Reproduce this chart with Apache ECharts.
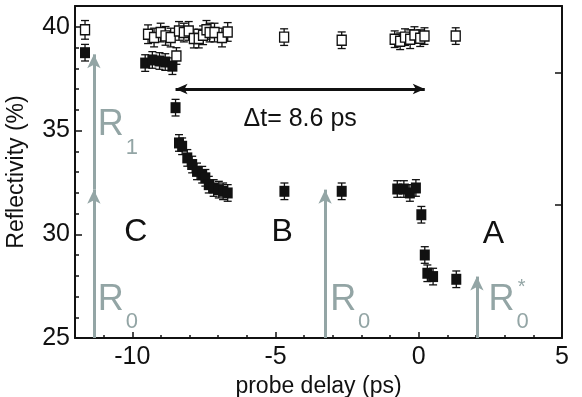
<!DOCTYPE html>
<html>
<head>
<meta charset="utf-8">
<script src="https://cdn.jsdelivr.net/npm/echarts@6/dist/echarts.min.js"></script>
<style>
  html, body { margin: 0; padding: 0; background: #fff; }
  #chart { width: 582px; height: 397px; }
</style>
</head>
<body>
<div id="chart"></div>
<script>
// open squares: before pump (R1 level)
var openX = [-11.65, -9.45, -9.24, -9.01, -8.84, -8.66, -8.46, -8.37, -8.20, -8.03, -7.85, -7.68,
  -7.53, -7.41, -7.30, -7.13, -6.87, -6.67, -4.70, -2.69, -0.84, -0.65, -0.48, -0.30, -0.15, 0.05, 0.20, 1.29];
var openY = [39.85, 39.64, 39.48, 39.72, 39.56, 39.48, 38.59, 39.80, 39.72, 39.80, 39.43, 39.43,
  39.59, 39.85, 39.72, 39.72, 39.48, 39.75, 39.50, 39.35, 39.40, 39.30, 39.50, 39.40, 39.60, 39.45, 39.55, 39.55];
var openErr = [0.45, 0.45, 0.45, 0.45, 0.45, 0.45, 0.40, 0.45, 0.45, 0.45, 0.45, 0.45,
  0.45, 0.45, 0.45, 0.45, 0.45, 0.45, 0.40, 0.40, 0.40, 0.40, 0.40, 0.45, 0.40, 0.40, 0.40, 0.40];

// filled squares: with pump
var fillX = [-11.65, -9.55, -9.30, -9.05, -8.85, -8.60, -8.49, -8.37, -8.26, -8.08, -7.91, -7.74, -7.56,
  -7.45, -7.33, -7.16, -6.98, -6.83, -6.67, -4.69, -2.69, -0.75, -0.52, -0.31, -0.10, 0.09, 0.21, 0.30, 0.50, 1.31];
var fillY = [38.75, 38.25, 38.40, 38.35, 38.30, 38.10, 36.10, 34.40, 34.24, 33.68, 33.36, 33.03, 32.87,
  32.72, 32.39, 32.23, 32.15, 32.07, 31.99, 32.07, 32.07, 32.18, 32.18, 31.99, 32.23, 30.94, 29.00, 28.12, 27.96, 27.83];
var fillErr = [0.40, 0.40, 0.40, 0.40, 0.40, 0.40, 0.40, 0.40, 0.40, 0.40, 0.40, 0.40, 0.40,
  0.40, 0.40, 0.40, 0.40, 0.40, 0.40, 0.40, 0.40, 0.40, 0.40, 0.40, 0.40, 0.40, 0.40, 0.40, 0.40, 0.40];

var xLabels = [-10, -5, 0, 5];
var yLabels = [25, 30, 35, 40];
var rightTicks = [31.4, 37.8];

// annotation positions (data coords)
var dtArrow = [[-8.49, 37.0], [0.21, 37.0]];
var grayArrows = [
  [[-11.34, 25], [-11.34, 32.15]],
  [[-11.34, 32.15], [-11.34, 38.67]],
  [[-3.27, 25], [-3.27, 32.15]],
  [[2.03, 25], [2.03, 27.96]]
];
var regionLabels = [['C', -9.88, 30.12], ['B', -4.77, 30.12], ['A', 2.61, 30.02]];
var rLabels = [['R', '1', -10.75, 35.24], ['R', '0', -10.75, 26.84], ['R', '0', -2.64, 26.84], ['R', '0', 2.89, 26.84]];

var black = '#111';
var gray = '#93a5a5';
var font = 'Liberation Sans, Arial, sans-serif';

function toPairs(xs, ys, es) {
  return xs.map(function (x, i) { return [x, ys[i], es[i]]; });
}

function errorBars(xs, ys, es) {
  return {
    type: 'custom',
    z: 3,
    data: toPairs(xs, ys, es),
    encode: { x: 0, y: 1 },
    renderItem: function (params, api) {
      var x = api.value(0), y = api.value(1), e = api.value(2);
      var hi = api.coord([x, y + e]);
      var lo = api.coord([x, y - e]);
      var w = 4;
      var st = { stroke: black, lineWidth: 1.3 };
      return {
        type: 'group',
        children: [
          { type: 'line', shape: { x1: hi[0], y1: hi[1], x2: lo[0], y2: lo[1] }, style: st },
          { type: 'line', shape: { x1: hi[0] - w, y1: hi[1], x2: hi[0] + w, y2: hi[1] }, style: st },
          { type: 'line', shape: { x1: lo[0] - w, y1: lo[1], x2: lo[0] + w, y2: lo[1] }, style: st }
        ]
      };
    }
  };
}

var chart = echarts.init(document.getElementById('chart'));

var rMarks = [];
rLabels.forEach(function (r) {
  rMarks.push({ coord: [r[2], r[3]], label: { formatter: r[0], fontSize: 36 } });
  rMarks.push({ coord: [r[2], r[3]], label: { formatter: r[1], fontSize: 22, offset: [21, 22] } });
});
// star on R0*
rMarks.push({ coord: [rLabels[3][2], rLabels[3][3]], label: { formatter: '*', fontSize: 20, offset: [20, -12] } });

var tickStyle = { color: black, width: 1.5 };

chart.setOption({
  animation: false,
  grid: { left: 75, right: 20, top: 6, bottom: 59, outerBoundsMode: 'none', containLabel: false },
  xAxis: [
    {
      type: 'value', min: -12, max: 5, interval: 1,
      name: 'probe delay (ps)', nameLocation: 'middle', nameGap: 36,
      nameTextStyle: { fontSize: 23, color: black, fontFamily: font },
      axisLine: { onZero: false, lineStyle: { color: black, width: 2 } },
      axisTick: { inside: true, length: 3, lineStyle: tickStyle },
      axisLabel: { customValues: xLabels, fontSize: 25, color: black, fontFamily: font, margin: 7 },
      splitLine: { show: false }
    },
    {
      type: 'value', min: -12, max: 5, position: 'bottom',
      axisLine: { show: false, onZero: false },
      axisTick: { inside: true, length: 6, customValues: xLabels, lineStyle: tickStyle },
      axisLabel: { show: false },
      splitLine: { show: false }
    },
    {
      type: 'value', min: -12, max: 5, position: 'top',
      axisLine: { onZero: false, lineStyle: { color: black, width: 2 } },
      axisTick: { show: false }, axisLabel: { show: false }, splitLine: { show: false }
    }
  ],
  yAxis: [
    {
      type: 'value', min: 25, max: 41, interval: 1,
      name: 'Reflectivity (%)', nameLocation: 'middle', nameGap: 47,
      nameTextStyle: { fontSize: 23, color: black, fontFamily: font },
      axisLine: { onZero: false, lineStyle: { color: black, width: 2 } },
      axisTick: { inside: true, length: 4, lineStyle: tickStyle },
      axisLabel: { customValues: yLabels, fontSize: 25, color: black, fontFamily: font, margin: 5 },
      splitLine: { show: false }
    },
    {
      type: 'value', min: 25, max: 41, position: 'left',
      axisLine: { show: false, onZero: false },
      axisTick: { inside: true, length: 7, customValues: yLabels, lineStyle: tickStyle },
      axisLabel: { show: false },
      splitLine: { show: false }
    },
    {
      type: 'value', min: 25, max: 41, position: 'right',
      axisLine: { onZero: false, lineStyle: { color: black, width: 2 } },
      axisTick: { inside: true, length: 7, customValues: rightTicks, lineStyle: tickStyle },
      axisLabel: { show: false }, splitLine: { show: false }
    }
  ],
  series: [
    {
      // gray arrows and labels
      type: 'line', data: [], z: 1,
      markLine: {
        silent: true, symbol: ['none', 'arrow'], symbolSize: [10, 14],
        lineStyle: { color: gray, width: 3, type: 'solid' },
        label: { show: false },
        data: grayArrows.map(function (a) { return [{ coord: a[0] }, { coord: a[1] }]; })
      },
      markPoint: {
        silent: true, symbol: 'circle', symbolSize: 0,
        label: { show: true, color: gray, fontFamily: font },
        data: rMarks
      }
    },
    errorBars(fillX, fillY, fillErr),
    {
      type: 'scatter', z: 4,
      data: toPairs(fillX, fillY, fillErr),
      symbol: 'rect', symbolSize: [10, 11],
      itemStyle: { color: black, opacity: 1 }
    },
    errorBars(openX, openY, openErr),
    {
      type: 'scatter', z: 5,
      data: toPairs(openX, openY, openErr),
      symbol: 'rect', symbolSize: [9, 10],
      itemStyle: { color: '#fff', borderColor: black, borderWidth: 1.4, opacity: 1 }
    },
    {
      // delta t arrow and region letters
      type: 'line', data: [], z: 6,
      markLine: {
        silent: true, symbol: ['arrow', 'arrow'], symbolSize: [8, 12],
        lineStyle: { color: black, width: 3, type: 'solid' },
        label: { show: false },
        data: [[{ coord: dtArrow[0] }, { coord: dtArrow[1] }]]
      },
      markPoint: {
        silent: true, symbol: 'circle', symbolSize: 0,
        label: { show: true, color: black, fontFamily: font },
        data: regionLabels.map(function (l) {
          return { coord: [l[1], l[2]], label: { formatter: l[0], fontSize: 32 } };
        }).concat([{ coord: [-4.14, 35.55], label: { formatter: '\u0394t= 8.6 ps', fontSize: 25 } }])
      }
    }
  ]
});
window.onresize = chart.resize;
</script>
</body>
</html>
